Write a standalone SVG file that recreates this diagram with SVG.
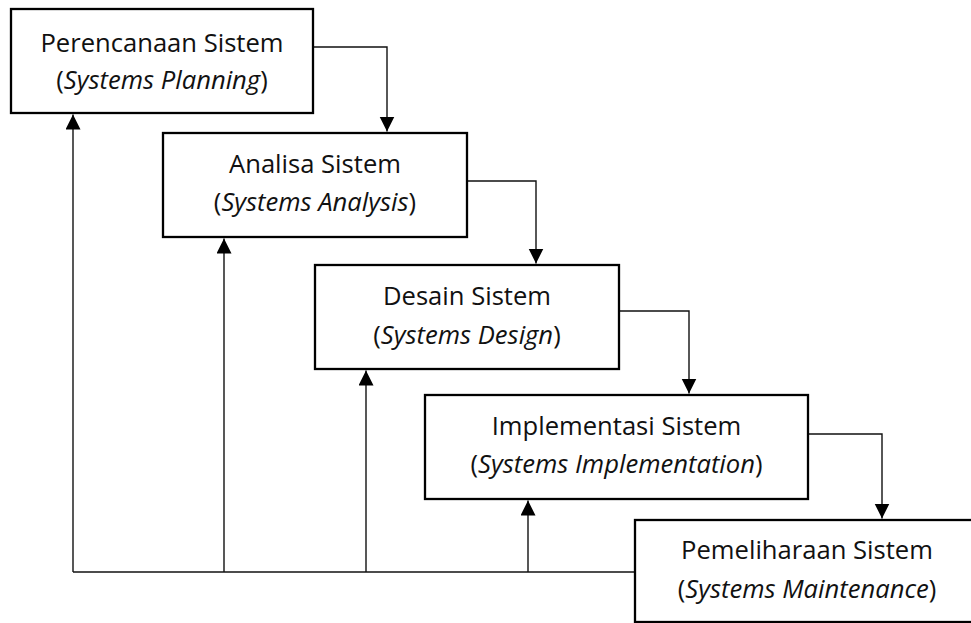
<svg xmlns="http://www.w3.org/2000/svg" width="971" height="623" viewBox="0 0 971 623">
<style>
.box{fill:#fff;stroke:#000;stroke-width:2.3}
.lbl{font-family:"Open Sans","Noto Sans","DejaVu Sans",sans-serif;font-size:25.6px;fill:#111;text-anchor:middle}
.it{font-style:italic}
.con{fill:none;stroke:#111;stroke-width:1.4}
</style>
<defs>
<marker id="arrow" markerUnits="userSpaceOnUse" markerWidth="16" markerHeight="16" refX="15" refY="7.5" orient="auto">
<path d="M0,0 L15,7.5 L0,15 z" fill="#000"/>
</marker>
</defs>
<rect width="971" height="623" fill="#fff"/>
<g id="connectors">
<path class="con" d="M313,47 H387 V131.5" marker-end="url(#arrow)"/>
<path class="con" d="M467,181 H536 V263.5" marker-end="url(#arrow)"/>
<path class="con" d="M619,311 H689 V393.5" marker-end="url(#arrow)"/>
<path class="con" d="M808,434 H882 V518.5" marker-end="url(#arrow)"/>
<path class="con" d="M634,572 H73"/>
<path class="con" d="M73,572 V114.5" marker-end="url(#arrow)"/>
<path class="con" d="M224,572 V238.5" marker-end="url(#arrow)"/>
<path class="con" d="M366,572 V370.5" marker-end="url(#arrow)"/>
<path class="con" d="M528,572 V500.5" marker-end="url(#arrow)"/>
</g>
<g id="planning">
<rect class="box" x="11" y="9" width="302" height="104"/>
<text class="lbl" x="162" y="52">Perencanaan Sistem</text>
<text class="lbl" x="162" y="89">(<tspan class="it">Systems Planning</tspan>)</text>
</g>
<g id="analysis">
<rect class="box" x="163" y="133" width="304" height="104"/>
<text class="lbl" x="315" y="173">Analisa Sistem</text>
<text class="lbl" x="315" y="211">(<tspan class="it">Systems Analysis</tspan>)</text>
</g>
<g id="design">
<rect class="box" x="315" y="265" width="304" height="104"/>
<text class="lbl" x="467" y="305">Desain Sistem</text>
<text class="lbl" x="467" y="344">(<tspan class="it">Systems Design</tspan>)</text>
</g>
<g id="implementation">
<rect class="box" x="425" y="395" width="383" height="104"/>
<text class="lbl" x="616.5" y="435">Implementasi Sistem</text>
<text class="lbl" x="616.5" y="473">(<tspan class="it">Systems Implementation</tspan>)</text>
</g>
<g id="maintenance">
<rect class="box" x="635" y="520" width="346" height="102"/>
<text class="lbl" x="807" y="559">Pemeliharaan Sistem</text>
<text class="lbl" x="807" y="598">(<tspan class="it">Systems Maintenance</tspan>)</text>
</g>
</svg>
